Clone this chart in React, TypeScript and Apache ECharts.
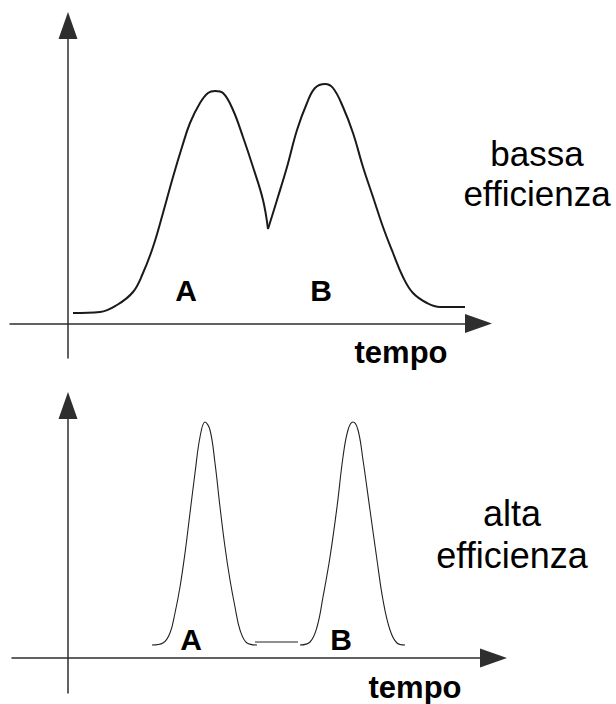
import React, { useEffect, useRef } from "react";
import * as echarts from "echarts";

// time (t) and signal (s) pairs
const lowEffLeft: [number, number][] = [
  [0.5, 1.05], [3.2, 1.15], [4.9, 1.85], [6.5, 3.15], [7.5, 5.05], [8.5, 7.65],
  [9.5, 11.05], [10.5, 14.65], [11.4, 17.65], [12.2, 20.05], [13.2, 22.05],
  [14.0, 23.05], [14.7, 23.25], [15.5, 23.05], [16.5, 21.35], [17.5, 18.65],
  [18.5, 15.65], [19.5, 12.35], [20.0, 9.45],
];
const lowEffRight: [number, number][] = [
  [20.0, 9.45], [20.9, 12.35], [21.9, 15.65], [22.9, 19.35], [23.9, 22.05],
  [24.7, 23.55], [25.7, 23.95], [26.5, 23.55], [27.5, 21.65], [28.5, 19.05],
  [29.5, 15.65], [30.5, 12.65], [31.5, 9.65], [32.5, 7.05], [33.5, 4.65],
  [34.5, 3.05], [35.9, 2.05], [37.2, 1.65], [39.7, 1.65],
];
const highEffA: [number, number][] = [
  [8.4, 1.3], [9.5, 1.5], [10.2, 2.5], [10.7, 4.5], [11.2, 7.1], [11.7, 10.5],
  [12.2, 14.5], [12.7, 18.5], [13.2, 22.1], [13.7, 23.6], [14.2, 22.8],
  [14.7, 19.5], [15.2, 15.1], [15.7, 11.1], [16.2, 7.8], [16.7, 5.1],
  [17.2, 2.8], [17.9, 1.5], [18.9, 1.3],
];
const highEffGap: [number, number][] = [
  [18.7, 1.6], [23.0, 1.6],
];
const highEffB: [number, number][] = [
  [23.2, 1.3], [24.2, 1.6], [24.9, 3.1], [25.5, 6.1], [26.2, 10.1], [26.9, 15.1],
  [27.5, 20.1], [28.0, 22.8], [28.5, 23.6], [29.0, 22.8], [29.5, 19.8],
  [30.2, 14.8], [30.9, 9.8], [31.5, 5.8], [32.2, 2.8], [32.9, 1.5], [33.7, 1.3],
];

const peakLabels = ["A", "B"];
const axisName = "tempo";
const topCaption = ["bassa", "efficienza"];
const bottomCaption = ["alta", "efficienza"];

const FONT = "'Liberation Sans', Arial, sans-serif";

export default function App() {
  const ref = useRef<HTMLDivElement>(null);

  useEffect(() => {
    document.body.style.margin = "0";
    if (!ref.current) return;
    const chart = echarts.init(ref.current, undefined, { renderer: "svg" });

    const axisLine = {
      show: true,
      onZero: true,
      symbol: ["none", "triangle"],
      symbolSize: [19, 27],
      lineStyle: { color: "#2e2e2e", width: 1.5 },
    };
    const hidden = {
      axisTick: { show: false },
      axisLabel: { show: false },
      splitLine: { show: false },
    };

    const txt = (
      text: string,
      x: number,
      y: number,
      size: number,
      bold: boolean,
      lineHeight?: number
    ) => ({
      type: "text",
      x,
      y,
      silent: true,
      style: {
        text,
        fill: "#000",
        font: `${bold ? "bold " : ""}${size}px ${FONT}`,
        lineHeight: lineHeight ?? size,
        textAlign: "center",
        textVerticalAlign: "middle",
      },
    });

    const curve = (
      data: [number, number][],
      idx: number,
      width: number,
      color: string,
      smooth: boolean
    ) => ({
      type: "line",
      xAxisIndex: idx,
      yAxisIndex: idx,
      data,
      smooth: smooth ? 0.4 : false,
      symbol: "none",
      showSymbol: false,
      silent: true,
      lineStyle: { color, width },
    });

    chart.setOption({
      animation: false,
      backgroundColor: "#fff",
      grid: [
        { left: 10, right: 137.5, top: 25.5, bottom: 346, containLabel: false, outerBoundsMode: "none" },
        { left: 12, right: 122.5, top: 405.5, bottom: 11, containLabel: false, outerBoundsMode: "none" },
      ],
      xAxis: [
        { type: "value", gridIndex: 0, min: -5.8, max: 41.05, axisLine, ...hidden },
        { type: "value", gridIndex: 1, min: -5.6, max: 42.55, axisLine, ...hidden },
      ],
      yAxis: [
        { type: "value", gridIndex: 0, min: -3.45, max: 29.8, axisLine, ...hidden },
        { type: "value", gridIndex: 1, min: -3.5, max: 25.25, axisLine, ...hidden },
      ],
      series: [
        curve(lowEffLeft, 0, 2, "#1a1a1a", true),
        curve(lowEffRight, 0, 2, "#1a1a1a", true),
        curve(highEffA, 1, 1.1, "#222", true),
        curve(highEffGap, 1, 1.1, "#222", false),
        curve(highEffB, 1, 1.1, "#222", true),
      ],
      graphic: [
        txt(peakLabels[0], 186, 290, 30, true),
        txt(peakLabels[1], 321, 290, 30, true),
        txt(axisName, 401, 352, 31, true),
        txt(topCaption.join("\n"), 537, 173, 35, false, 40),
        txt(peakLabels[0], 191, 639, 30, true),
        txt(peakLabels[1], 341, 639, 30, true),
        txt(axisName, 415, 687, 31, true),
        txt(bottomCaption.join("\n"), 512, 534, 36, false, 42),
      ],
    });

    return () => chart.dispose();
  }, []);

  return (
    <div
      ref={ref}
      style={{ position: "fixed", left: 0, top: 0, width: 616, height: 704 }}
    />
  );
}
